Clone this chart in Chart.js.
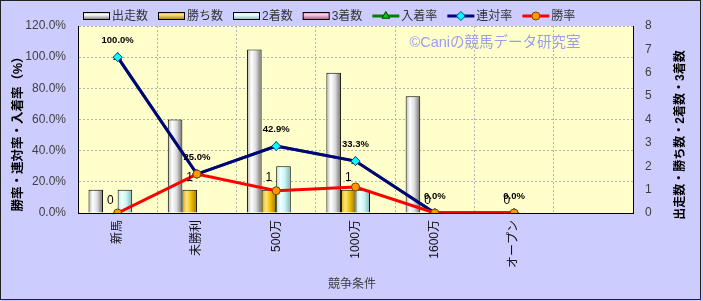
<!DOCTYPE html>
<html>
<head>
<meta charset="utf-8">
<script src="https://cdn.jsdelivr.net/npm/chart.js@4.4.0/dist/chart.umd.min.js"></script>
<style>
html, body { margin: 0; padding: 0; background: #ffffff; }
#wrap { width: 703px; height: 301px; }
</style>
</head>
<body>
<div id="wrap"><canvas id="raceChart" width="703" height="301"></canvas></div>
<script>
// data (last category is an empty slot)
const categories = ['新馬', '未勝利', '500万', '1000万', '1600万', 'オープン', ''];
const starts     = [1, 4, 7, 6, 5, 0, null];
const wins       = [0, 1, 1, 1, 0, 0, null];
const seconds    = [1, 0, 2, 1, 0, 0, null];
const thirds     = [0, 0, 0, 0, 0, 0, null];
const placeRate  = [100, 25, 42.9, 33.3, 0, 0, null];
const rentaiRate = [100, 25, 42.9, 33.3, 0, 0, null];
const winRate    = [0, 25, 14.3, 16.7, 0, 0, null];
const rateTicks  = [0, 20, 40, 60, 80, 100, 120];
const countTicks = [0, 1, 2, 3, 4, 5, 6, 7, 8];

const FONT = "'Liberation Sans', 'Noto Sans CJK JP', sans-serif";
const CAT_PCT = 0.735;

// cylinder-like shading for the bars
const shades = {
    starts:  ['#b4b4b4', '#ffffff', '#dcdcdc', '#6e6e6e'],
    wins:    ['#d9a800', '#ffe680', '#f0c000', '#9a7400'],
    seconds: ['#b8e6e6', '#f2ffff', '#c8f4f4', '#7fb0b0'],
    thirds:  ['#e080b0', '#ffd0e8', '#f099c4', '#a04c78']
};

function barFill(stops, slot) {
    return function (ctx) {
        const chart = ctx.chart;
        const xs = chart.scales.x;
        if (!chart.chartArea || !xs || ctx.dataIndex === undefined) return stops[2];
        const cat = xs.width / categories.length;
        const bw = cat * CAT_PCT / 4;
        const left = xs.getPixelForValue(ctx.dataIndex) - cat * CAT_PCT / 2 + slot * bw;
        const g = chart.ctx.createLinearGradient(left, 0, left + bw, 0);
        g.addColorStop(0, stops[0]);
        g.addColorStop(0.3, stops[1]);
        g.addColorStop(0.6, stops[2]);
        g.addColorStop(1, stops[3]);
        return g;
    };
}

function barSet(label, data, key, slot) {
    return {
        type: 'bar', label: label, data: data, yAxisID: 'y1', order: 5 + slot,
        backgroundColor: barFill(shades[key], slot),
        borderColor: '#000000', borderWidth: 1,
        categoryPercentage: CAT_PCT, barPercentage: 1
    };
}

function lineSet(label, data, color, style, fill, edge, radius, order) {
    return {
        type: 'line', label: label, data: data, yAxisID: 'y', order: order,
        borderColor: color, borderWidth: 3, tension: 0,
        pointStyle: style, pointRadius: radius, pointBackgroundColor: fill,
        pointBorderColor: edge, pointBorderWidth: 1
    };
}

// ---------------- background, frame ----------------
const backdrop = {
    id: 'backdrop',
    beforeDraw(chart) {
        const c = chart.ctx, a = chart.chartArea;
        c.save();
        c.fillStyle = '#ccccff';
        c.fillRect(0, 0, chart.width, chart.height);
        c.strokeStyle = '#222222';
        c.lineWidth = 1;
        c.strokeRect(0.5, 0.5, chart.width - 3, chart.height - 2);
        c.fillStyle = '#ffffcc';
        c.fillRect(a.left, a.top, a.right - a.left, a.bottom - a.top);
        c.restore();
    }
};

// ---------------- value labels ----------------
const valueLabels = {
    id: 'valueLabels',
    afterDatasetsDraw(chart) {
        const c = chart.ctx;
        c.save();
        c.textAlign = 'center';
        c.textBaseline = 'middle';
        c.fillStyle = '#000000';
        // wins count
        c.font = '12px ' + FONT;
        chart.getDatasetMeta(1).data.forEach((el, i) => {
            if (wins[i] === null) return;
            c.fillText(String(wins[i]), el.x, el.y - 12);
        });
        // rentai rate
        c.font = 'bold 9.5px ' + FONT;
        chart.getDatasetMeta(5).data.forEach((el, i) => {
            if (rentaiRate[i] === null) return;
            c.fillText(rentaiRate[i].toFixed(1) + '%', el.x, el.y - 17);
        });
        // watermark
        c.font = '14.5px ' + FONT;
        c.fillStyle = '#9c9cf0';
        c.fillText('©Caniの競馬データ研究室', 495, 43);
        c.restore();
    }
};

// ---------------- titles and legend ----------------
function vText(c, text, x, y, font, color) {
    c.save();
    c.translate(x, y);
    c.rotate(-Math.PI / 2);
    c.font = font;
    c.fillStyle = color;
    c.textAlign = 'center';
    c.textBaseline = 'middle';
    c.fillText(text, 0, 0);
    c.restore();
}

const titlesAndLegend = {
    id: 'titlesAndLegend',
    afterDraw(chart) {
        const c = chart.ctx;
        vText(c, '勝率・連対率・入着率（%）', 19, 131, 'bold 12.5px ' + FONT, '#000000');
        vText(c, '出走数・勝ち数・2着数・3着数', 681, 135, 'bold 12px ' + FONT, '#000000');

        c.save();
        c.font = '12px ' + FONT;
        c.fillStyle = '#404040';
        c.textAlign = 'center';
        c.textBaseline = 'middle';
        c.fillText('競争条件', 352, 285);

        // legend row
        const items = [
            { t: '出走数', bar: 'starts' },
            { t: '勝ち数', bar: 'wins' },
            { t: '2着数', bar: 'seconds' },
            { t: '3着数', bar: 'thirds' },
            { t: '入着率', ds: 4 },
            { t: '連対率', ds: 5 },
            { t: '勝率', ds: 6 }
        ];
        let x = 83;
        const y = 16;
        c.textAlign = 'left';
        items.forEach(it => {
            if (it.bar) {
                const s = shades[it.bar];
                const g = c.createLinearGradient(0, y - 4, 0, y + 4);
                g.addColorStop(0, s[0]); g.addColorStop(0.35, s[1]); g.addColorStop(1, s[3]);
                c.fillStyle = g;
                c.fillRect(x, y - 3.5, 26, 7);
                c.strokeStyle = '#000000';
                c.lineWidth = 1;
                c.strokeRect(x + 0.5, y - 3.5, 26, 7);
            } else {
                const d = chart.data.datasets[it.ds];
                c.strokeStyle = d.borderColor;
                c.lineWidth = 3;
                c.beginPath();
                c.moveTo(x, y);
                c.lineTo(x + 27, y);
                c.stroke();
                c.fillStyle = d.pointBackgroundColor;
                c.strokeStyle = d.pointBorderColor;
                c.lineWidth = 1;
                Chart.helpers.drawPoint(c, { pointStyle: d.pointStyle, radius: d.pointRadius, rotation: 0, borderWidth: 1 }, x + 13.5, y);
            }
            c.fillStyle = '#333333';
            c.fillText(it.t, x + 29, y + 1);
            x += 29 + c.measureText(it.t).width + 10;
        });
        c.restore();
    }
};

const chart = new Chart(document.getElementById('raceChart'), {
    data: {
        labels: categories,
        datasets: [
            barSet('出走数', starts, 'starts', 0),
            barSet('勝ち数', wins, 'wins', 1),
            barSet('2着数', seconds, 'seconds', 2),
            barSet('3着数', thirds, 'thirds', 3),
            lineSet('入着率', placeRate, '#008000', 'triangle', '#00cc00', '#004000', 4.5, 3),
            lineSet('連対率', rentaiRate, '#000080', 'rectRot', '#00ffff', '#004080', 4.5, 2),
            lineSet('勝率', winRate, '#ff0000', 'circle', '#ff9900', '#804000', 4, 1)
        ]
    },
    options: {
        responsive: false,
        animation: false,
        layout: { padding: { top: 26, left: 0, right: 0, bottom: 0 } },
        plugins: {
            legend: { display: false },
            tooltip: { enabled: false }
        },
        scales: {
            x: {
                afterFit: s => { s.height = 88; },
                grid: { offset: true, color: '#b4b4b4', drawTicks: false },
                border: { color: '#000000', width: 1, dash: [2, 2] },
                ticks: {
                    autoSkip: false, maxRotation: 90, minRotation: 90, padding: 7,
                    color: '#111111', font: { family: FONT, size: 12 }
                }
            },
            y: {
                position: 'left', min: 0, max: 120,
                afterFit: s => { s.width = 78; },
                afterBuildTicks: s => { s.ticks = rateTicks.map(v => ({ value: v })); },
                grid: { color: '#b4b4b4', drawTicks: false },
                border: { color: '#000000', width: 1, dash: [2, 2] },
                ticks: {
                    padding: 12, color: '#404040', font: { family: FONT, size: 12 },
                    callback: v => v.toFixed(1) + '%'
                }
            },
            y1: {
                position: 'right', min: 0, max: 8,
                afterFit: s => { s.width = 70; },
                afterBuildTicks: s => { s.ticks = countTicks.map(v => ({ value: v })); },
                grid: { drawOnChartArea: false, drawTicks: false },
                border: { color: '#000000', width: 1 },
                ticks: { padding: 12, color: '#404040', font: { family: FONT, size: 12 } }
            }
        }
    },
    plugins: [backdrop, valueLabels, titlesAndLegend]
});
// second pass so bar gradients see the laid-out scale
chart.update();
</script>
</body>
</html>
